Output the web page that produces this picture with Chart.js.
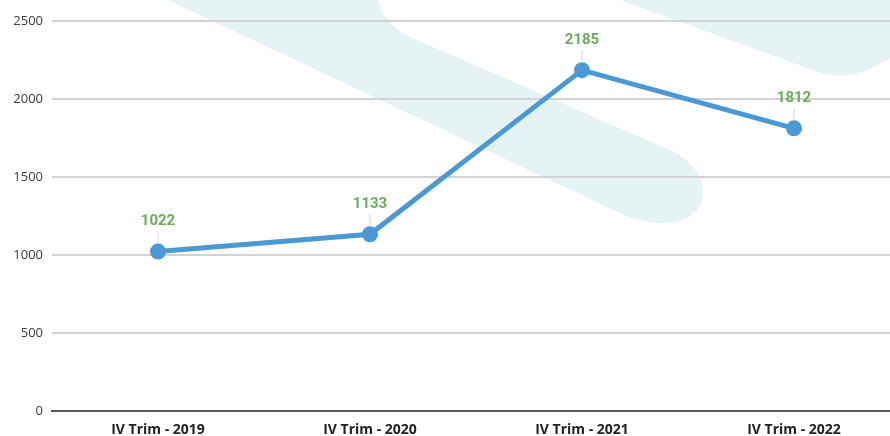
<!DOCTYPE html>
<html>
<head>
<meta charset="utf-8">
<script src="https://cdn.jsdelivr.net/npm/chart.js@4/dist/chart.umd.min.js"></script>
<style>
  html, body { margin: 0; padding: 0; background: #fff; overflow: hidden; }
  #wrap { width: 908px; height: 436px; }
</style>
</head>
<body>
<div id="wrap"><canvas id="chart"></canvas></div>
<script>
// data
const CATEGORIES = ['IV Trim - 2019', 'IV Trim - 2020', 'IV Trim - 2021', 'IV Trim - 2022'];
const VALUES = [1022, 1133, 2185, 1812];
const Y_TICKS = [0, 500, 1000, 1500, 2000, 2500];

const LINE_COLOR = '#4a98d6';
const LABEL_COLOR = '#6aae5c';
const SHAPE_COLOR = '#e6f3f5';

// soft background shapes behind the plot
const backdrop = {
  id: 'backdrop',
  beforeDraw(chart) {
    const c = chart.ctx;
    c.save();
    c.fillStyle = SHAPE_COLOR;
    c.beginPath();
    c.moveTo(168, 0);
    c.lineTo(378, 0);
    c.quadraticCurveTo(384, 24, 408, 36);
    c.lineTo(670, 150);
    c.bezierCurveTo(705, 165, 712, 200, 692, 215);
    c.bezierCurveTo(676, 226, 650, 226, 622, 214);
    c.closePath();
    c.fill();

    c.beginPath();
    c.moveTo(620, 0);
    c.lineTo(900, 0);
    c.lineTo(900, 52);
    c.bezierCurveTo(870, 70, 850, 82, 818, 72);
    c.closePath();
    c.fill();
    c.restore();
  }
};

// value labels with a short leader line
const valueLabels = {
  id: 'valueLabels',
  afterDatasetsDraw(chart) {
    const c = chart.ctx;
    const meta = chart.getDatasetMeta(0);
    c.save();
    meta.data.forEach((pt, i) => {
      c.strokeStyle = '#d4d4d4';
      c.lineWidth = 1;
      c.beginPath();
      c.moveTo(pt.x, pt.y - 20);
      c.lineTo(pt.x, pt.y - 9);
      c.stroke();
      c.fillStyle = LABEL_COLOR;
      c.font = 'bold 15px Roboto';
      c.textAlign = 'center';
      c.textBaseline = 'middle';
      c.fillText(String(VALUES[i]), pt.x, pt.y - 30);
    });
    c.restore();
  }
};

new Chart(document.getElementById('chart'), {
  type: 'line',
  data: {
    labels: CATEGORIES,
    datasets: [{
      data: VALUES,
      borderColor: LINE_COLOR,
      backgroundColor: LINE_COLOR,
      borderWidth: 5,
      pointRadius: 8,
      pointHoverRadius: 8,
      pointBackgroundColor: LINE_COLOR,
      pointBorderWidth: 0,
      tension: 0,
      fill: false,
    }]
  },
  options: {
    responsive: true,
    maintainAspectRatio: false,
    animation: false,
    layout: { padding: { top: 21, right: 0, left: 0, bottom: 0 } },
    plugins: {
      legend: { display: false },
      tooltip: { enabled: false },
    },
    scales: {
      x: {
        offset: true,
        grid: { display: false, drawTicks: false },
        border: { color: '#555', width: 2 },
        ticks: {
          color: '#222',
          padding: 11,
          font: { family: "'Open Sans'", size: 14, weight: 'bold' },
        },
        afterFit(scale) {
          scale.height = 25;
        }
      },
      y: {
        min: 0,
        max: 2500,
        afterBuildTicks(scale) {
          scale.ticks = Y_TICKS.map(v => ({ value: v }));
        },
        grid: {
          color: ctx => ctx.tick.value === 0 ? '#555' : '#d2d2d2',
          lineWidth: 2,
          drawTicks: false,
        },
        border: { display: false },
        ticks: {
          color: '#3a3a3a',
          padding: 9,
          callback: v => String(v),
          font: { family: "'Open Sans'", size: 13 },
        },
        afterFit(scale) {
          scale.width = 52;
        }
      }
    }
  },
  plugins: [backdrop, valueLabels]
});
</script>
</body>
</html>
